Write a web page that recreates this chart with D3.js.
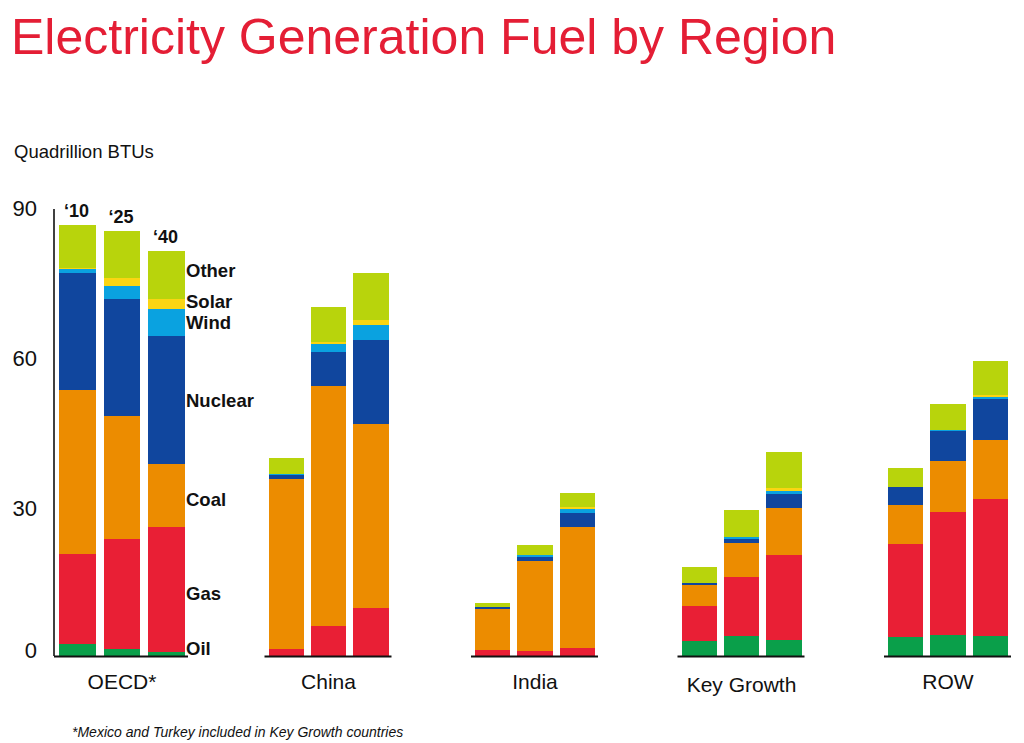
<!DOCTYPE html>
<html>
<head>
<meta charset="utf-8">
<script src="https://cdn.jsdelivr.net/npm/d3@7"></script>
<style>
  html, body { margin: 0; padding: 0; background: #fff; }
  svg { display: block; font-family: "Liberation Sans", Arial, sans-serif; }
</style>
</head>
<body>
<svg id="chart" width="1024" height="743"></svg>
<script>
// ---- data ----
const regions = ["OECD*", "China", "India", "Key Growth", "ROW"];
const years = ["\u201810", "\u201825", "\u201840"];
const fuels = ["Oil", "Gas", "Coal", "Nuclear", "Wind", "Solar", "Other"];
const yTicks = [0, 30, 60, 90];

// values per fuel, ordered region by region, years '10, '25, '40
const oil     = [2.5, 1.5, 0.8,   0, 0, 0,        0, 0, 0,        3.1, 4.1, 3.3,   3.9, 4.3, 4.1];
const gas     = [17.9, 22.0, 25.0, 1.4, 6.1, 9.7,  1.2, 1.0, 1.7,  6.9, 11.8, 16.9, 18.5, 24.6, 27.4];
const coal    = [32.9, 24.6, 12.7, 34.0, 48.1, 36.9, 8.2, 18.1, 24.2, 4.3, 6.7, 9.4, 7.8, 10.2, 11.8];
const nuclear = [23.5, 23.4, 25.6, 0.9, 6.8, 16.8, 0.4, 0.8, 2.8,  0.3, 0.9, 2.9,  3.7, 6.1, 8.2];
const wind    = [0.8, 2.7, 5.4,    0.2, 1.5, 2.9,  0.1, 0.3, 0.7,  0, 0.3, 0.6,    0, 0.1, 0.5];
const solar   = [0.1, 1.5, 2.1,    0, 0.5, 1.0,    0, 0.1, 0.4,    0, 0.1, 0.5,    0, 0, 0.4];
const other   = [8.6, 9.5, 9.6,    3.2, 6.9, 9.5,  0.7, 2.0, 2.9,  3.2, 5.3, 7.3,  3.7, 5.2, 6.7];

const footnote = "*Mexico and Turkey included in Key Growth countries";

// ---- build table ----
const seriesByFuel = { Oil: oil, Gas: gas, Coal: coal, Nuclear: nuclear, Wind: wind, Solar: solar, Other: other };
const rows = [];
regions.forEach((r, ri) => years.forEach((yr, yi) => {
  const o = { region: r, year: yr };
  fuels.forEach(f => o[f] = seriesByFuel[f][ri * 3 + yi]);
  rows.push(o);
}));

const colors = {
  Oil: "#0a9f4a", Gas: "#e91f35", Coal: "#ec8c00", Nuclear: "#10469e",
  Wind: "#0aa2e0", Solar: "#fbd512", Other: "#b8d40c"
};

const svg = d3.select("#chart");

// title
svg.append("text").attr("x", 11).attr("y", 54)
  .attr("font-size", 50).attr("fill", "#e41e35")
  .text("Electricity Generation Fuel by Region");

svg.append("text").attr("x", 14).attr("y", 158)
  .attr("font-size", 18.5).attr("fill", "#111")
  .text("Quadrillion BTUs");

// scales
const y = d3.scaleLinear().domain([0, 90]).range([656, 207]);
const xRegion = d3.scalePoint().domain(regions).range([122, 948]);
const xYear = d3.scaleBand().domain(years).range([-60, 60]).paddingInner(0.17);
const xYearO = d3.scaleBand().domain(years).range([-63, 63]).paddingInner(0.17);
const xy = r => r === regions[0] ? xYearO : xYear;

// y axis
const axisX = 54;
svg.append("line").attr("x1", axisX).attr("x2", axisX)
  .attr("y1", y(90) + 2).attr("y2", y(0))
  .attr("stroke", "#000").attr("stroke-width", 1.5);
const ax = svg.append("g").attr("transform", `translate(${axisX},0)`)
  .call(d3.axisLeft(y).tickValues(yTicks).tickSize(0).tickPadding(17));
ax.select(".domain").remove();
ax.selectAll("text").attr("font-size", 22).attr("fill", "#111")
  .attr("font-family", "'Liberation Sans', Arial, sans-serif")
  .attr("dy", d => d === 0 ? "0.05em" : "0.4em");

// stacked bars
const stacked = d3.stack().keys(fuels)(rows);
stacked.forEach(layer => {
  svg.append("g").attr("fill", colors[layer.key])
    .selectAll("rect").data(layer).join("rect")
    .attr("x", d => xRegion(d.data.region) + xy(d.data.region)(d.data.year))
    .attr("width", d => xy(d.data.region).bandwidth())
    .attr("y", d => y(d[1]))
    .attr("height", d => Math.max(0, y(d[0]) - y(d[1])))
    .attr("shape-rendering", "crispEdges");
});

// baselines
regions.forEach(r => {
  const s = xy(r);
  svg.append("line")
    .attr("x1", r === regions[0] ? axisX : xRegion(r) + s.range()[0] - 4)
    .attr("x2", xRegion(r) + s.range()[1] + 3)
    .attr("y1", y(0) + 0.5).attr("y2", y(0) + 0.5)
    .attr("stroke", "#111").attr("stroke-width", 2);
});

// region labels
svg.append("g").selectAll("text").data(regions).join("text")
  .attr("x", d => xRegion(d))
  .attr("y", d => d === "Key Growth" ? 692 : 689)
  .attr("text-anchor", "middle").attr("font-size", 21).attr("fill", "#111")
  .text(d => d);

// year labels above OECD bars
const oecdTotals = rows.filter(r => r.region === regions[0]);
svg.append("g").selectAll("text").data(oecdTotals).join("text")
  .attr("x", d => xRegion(d.region) + xYearO(d.year) + xYearO.bandwidth() / 2 - 1)
  .attr("y", d => y(d3.sum(fuels, f => d[f])) - 8)
  .attr("text-anchor", "middle").attr("font-size", 18).attr("font-weight", "bold")
  .attr("fill", "#111").text(d => d.year);

// fuel labels beside OECD '40 bar
const last = 2;
const lx = xRegion(regions[0]) + xYearO(years[last]) + xYearO.bandwidth() + 1;
const legendY = fuels.map((f, i) => {
  const seg = stacked[i][last];
  return Math.min(y((seg[0] + seg[1]) / 2), y(0) - 8);
});
const nudge = { Other: -5, Solar: -3, Coal: 4, Gas: 4 };
svg.append("g").selectAll("text").data(fuels).join("text")
  .attr("x", lx)
  .attr("y", (d, i) => legendY[i] + (nudge[d] || 0))
  .attr("dy", "0.36em")
  .attr("font-size", 18.5).attr("font-weight", "bold").attr("fill", "#111")
  .text(d => d);

// footnote
svg.append("text").attr("x", 72).attr("y", 737)
  .attr("font-size", 14).attr("font-style", "italic").attr("fill", "#111")
  .text(footnote);
</script>
</body>
</html>
